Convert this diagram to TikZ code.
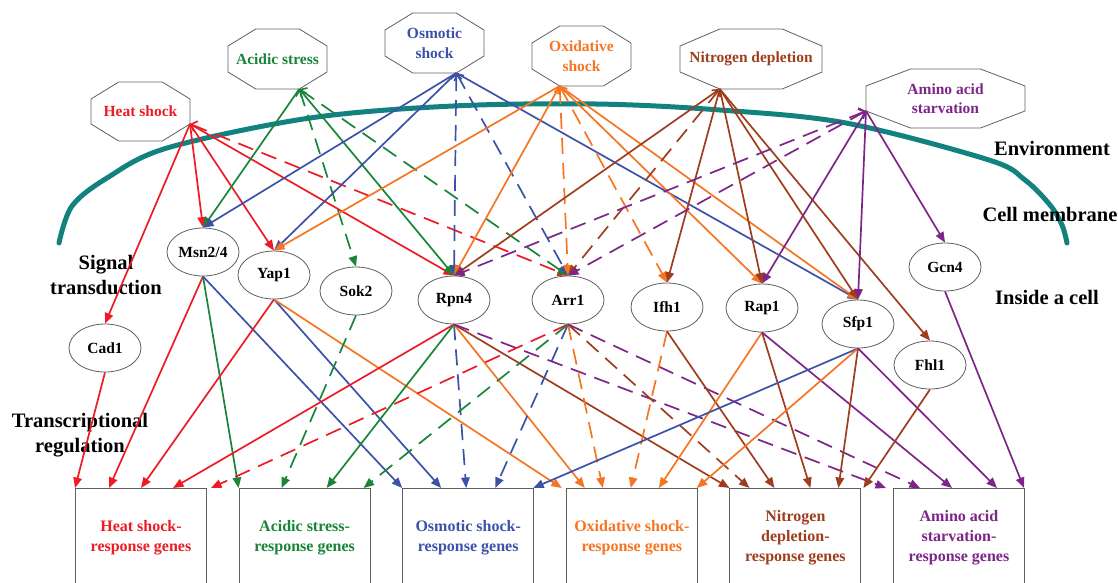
\documentclass[tikz,border=0pt]{standalone}
\usepackage{fontspec}
\setmainfont{Liberation Serif}
\usetikzlibrary{arrows.meta,calc,shapes.geometric}
\definecolor{cred}{RGB}{237,28,36}
\definecolor{cgreen}{RGB}{24,133,56}
\definecolor{cblue}{RGB}{60,82,168}
\definecolor{corange}{RGB}{245,117,34}
\definecolor{cbrown}{RGB}{158,62,30}
\definecolor{cpurple}{RGB}{125,38,135}
\definecolor{cteal}{RGB}{18,130,128}
\definecolor{cgray}{RGB}{95,95,95}
\newcommand\myoct[7]{%
  \node[octtxt, text=#6, minimum width=#4pt, minimum height=#5pt] (#1) at (#2,#3) {#7};
  \draw[octline] ({#2-#4/2},{#3-#5/2+17}) -- ({#2-#4/2+0.28*#4},{#3-#5/2})
    -- ({#2+#4/2-0.28*#4},{#3-#5/2}) -- ({#2+#4/2},{#3-#5/2+17})
    -- ({#2+#4/2},{#3+#5/2-17}) -- ({#2+#4/2-0.28*#4},{#3+#5/2})
    -- ({#2-#4/2+0.28*#4},{#3+#5/2}) -- ({#2-#4/2},{#3+#5/2-17}) -- cycle;
}
\begin{document}
\begin{tikzpicture}[x=1pt,y=-1pt,
  edge/.style={line width=1.7pt, -{Triangle[length=10.5pt,width=8.5pt]}},
  dedge/.style={edge, dash pattern=on 16pt off 9pt},
  bdedge/.style={dedge, {Straight Barb[length=5pt,width=11pt]}-{Triangle[length=10.5pt,width=8.5pt]}},
  ell/.style={draw=cgray, fill=white, line width=0.8pt, ellipse, minimum width=72pt, minimum height=48pt, inner sep=0pt, font=\bfseries\fontsize{15.5}{19.5}\selectfont},
  octtxt/.style={inner sep=0pt, align=center, font=\bfseries\fontsize{15.5}{19.5}\selectfont},
  octline/.style={draw=cgray, line width=0.8pt},
  genebox/.style={draw=cgray, fill=white, line width=1pt, anchor=north west, minimum width=131pt, minimum height=98pt, inner sep=0pt, align=center, font=\bfseries\fontsize{16}{20}\selectfont},
  lbl/.style={inner sep=0pt, align=center, font=\bfseries\fontsize{20.5}{25}\selectfont}
]
\useasboundingbox (0,0) rectangle (1118,582);
\clip (0,0) rectangle (1118,582);

% cell membrane
\draw[cteal, line width=5pt, line cap=round] plot[smooth, tension=0.55] coordinates {
 (59,243) (72,206) (107,178) (167,148) (310,118) (453,106) (596,104) (720,110)
 (846,123) (989,160) (1025,180) (1050,205) (1062,225) (1067,243)};

% labels
\node[lbl] (env) at (1052,148) {Environment};
\node[lbl] (memb) at (1050,214) {Cell membrane};
\node[lbl] (inside) at (1047,297) {Inside a cell};
\node[lbl] (sig) at (106,275) {Signal\\transduction};
\node[lbl] (tr) at (80,435) {Transcriptional\\regulation};

% stimuli
\myoct{heat}{140.5}{111.5}{99}{59}{cred}{Heat shock}
\myoct{acid}{277.5}{59}{99}{60}{cgreen}{Acidic stress}
\myoct{osm}{434.5}{43}{99}{60}{cblue}{Osmotic\\shock}
\myoct{oxi}{581.5}{56}{99}{60}{corange}{Oxidative\\shock}
\myoct{nit}{751}{59}{142}{60}{cbrown}{Nitrogen depletion}
\myoct{ami}{945.5}{98.5}{159}{59}{cpurple}{Amino acid\\starvation}
\coordinate (heat-o) at (190,124);
\coordinate (acid-o) at (299.3,89);
\coordinate (osm-o) at (456.3,73);
\coordinate (oxi-o) at (559.7,86);
\coordinate (nit-o) at (719.8,89);
\coordinate (ami-o) at (866,111);

% transcription factors
\node[ell] (msn) at (203,252) {Msn2/4};
\node[ell] (yap) at (274,275) {Yap1};
\node[ell] (sok) at (356,291) {Sok2};
\node[ell] (rpn) at (454,300) {Rpn4};
\node[ell] (arr) at (568,300) {Arr1};
\node[ell] (ifh) at (667,307) {Ifh1};
\node[ell] (rap) at (762,308) {Rap1};
\node[ell] (sfp) at (858,324) {Sfp1};
\node[ell] (gcn) at (945,267) {Gcn4};
\node[ell] (fhl) at (930,365) {Fhl1};
\node[ell] (cad) at (105,348) {Cad1};

% gene boxes
\node[genebox, text=cred] (hbox) at (75,488) {Heat shock-\\response genes};
\node[genebox, text=cgreen] (abox) at (238.6,488) {Acidic stress-\\response genes};
\node[genebox, text=cblue] (obox) at (402.2,488) {Osmotic shock-\\response genes};
\node[genebox, text=corange] (xbox) at (565.8,488) {Oxidative shock-\\response genes};
\node[genebox, text=cbrown] (nbox) at (729.4,488) {Nitrogen\\depletion-\\response genes};
\node[genebox, text=cpurple] (mbox) at (893,488) {Amino acid\\starvation-\\response genes};

% heat shock
\draw[edge,cred] (heat-o) -- (cad.north);
\draw[edge,cred] (heat-o) -- (msn.north);
\draw[edge,cred] (heat-o) -- (yap.north);
\draw[edge,cred] (heat-o) -- (rpn.north);
\draw[bdedge,cred] (heat-o) -- (arr.north);
% acidic stress
\draw[edge,cgreen] (acid-o) -- (msn.north);
\draw[edge,cgreen] (acid-o) -- (rpn.north);
\draw[bdedge,cgreen] (acid-o) -- (sok.north);
\draw[bdedge,cgreen] (acid-o) -- (arr.north);
% osmotic shock
\draw[edge,cblue] (osm-o) -- (msn.north);
\draw[edge,cblue] (osm-o) -- (yap.north);
\draw[bdedge,cblue] (osm-o) -- (rpn.north);
\draw[bdedge,cblue] (osm-o) -- (arr.north);
\draw[edge,cblue] (osm-o) -- (sfp.north);
% oxidative shock
\draw[edge,corange] (oxi-o) -- (yap.north);
\draw[edge,corange] (oxi-o) -- (rpn.north);
\draw[bdedge,corange] (oxi-o) -- (arr.north);
\draw[bdedge,corange] (oxi-o) -- (ifh.north);
\draw[edge,corange] (oxi-o) -- (rap.north);
\draw[edge,corange] (oxi-o) -- (sfp.north);
% nitrogen depletion
\draw[edge,cbrown] (nit-o) -- (rpn.north);
\draw[bdedge,cbrown] (nit-o) -- (arr.north);
\draw[edge,cbrown] (nit-o) -- (ifh.north);
\draw[edge,cbrown] (nit-o) -- (rap.north);
\draw[edge,cbrown] (nit-o) -- (sfp.north);
\draw[edge,cbrown] (nit-o) -- (fhl.north);
% amino acid starvation
\draw[bdedge,cpurple] (ami-o) -- (rpn.north);
\draw[bdedge,cpurple] (ami-o) -- (arr.north);
\draw[edge,cpurple] (ami-o) -- (rap.north);
\draw[edge,cpurple] (ami-o) -- (sfp.north);
\draw[edge,cpurple] (ami-o) -- (gcn.north);

% factors to genes
\draw[edge,cred] (cad.south) -- ([xshift=0pt]hbox.north west);
\draw[edge,cred] (msn.south) -- ([xshift=34pt]hbox.north west);
\draw[edge,cgreen] (msn.south) -- ([xshift=0pt]abox.north west);
\draw[edge,cblue] (msn.south) -- ([xshift=0pt]obox.north west);
\draw[edge,cred] (yap.south) -- ([xshift=66pt]hbox.north west);
\draw[edge,cblue] (yap.south) -- ([xshift=39pt]obox.north west);
\draw[edge,corange] (yap.south) -- ([xshift=-4pt]xbox.north west);
\draw[dedge,cgreen] (sok.south) -- ([xshift=43pt]abox.north west);
\draw[edge,cred] (rpn.south) -- ([xshift=98pt]hbox.north west);
\draw[edge,cgreen] (rpn.south) -- ([xshift=88pt]abox.north west);
\draw[dedge,cblue] (rpn.south) -- ([xshift=64pt]obox.north west);
\draw[edge,corange] (rpn.south) -- ([xshift=19pt]xbox.north west);
\draw[edge,cbrown] (rpn.south) -- ([xshift=0pt]nbox.north west);
\draw[dedge,cpurple] (rpn.south) -- ([xshift=-7pt]mbox.north west);
\draw[dedge,cred] (arr.south) -- ([xshift=136pt]hbox.north west);
\draw[dedge,cgreen] (arr.south) -- ([xshift=125pt]abox.north west);
\draw[dedge,cblue] (arr.south) -- ([xshift=93pt]obox.north west);
\draw[dedge,corange] (arr.south) -- ([xshift=37pt]xbox.north west);
\draw[dedge,cbrown] (arr.south) -- ([xshift=20pt]nbox.north west);
\draw[dedge,cpurple] (arr.south) -- ([xshift=27pt]mbox.north west);
\draw[dedge,corange] (ifh.south) -- ([xshift=65pt]xbox.north west);
\draw[edge,cbrown] (ifh.south) -- ([xshift=45pt]nbox.north west);
\draw[edge,corange] (rap.south) -- ([xshift=93pt]xbox.north west);
\draw[edge,cbrown] (rap.south) -- ([xshift=81pt]nbox.north west);
\draw[edge,cpurple] (rap.south) -- ([xshift=59pt]mbox.north west);
\draw[edge,cblue] (sfp.south) -- ([xshift=131pt]obox.north west);
\draw[edge,corange] (sfp.south) -- ([xshift=131pt]xbox.north west);
\draw[edge,cbrown] (sfp.south) -- ([xshift=109pt]nbox.north west);
\draw[edge,cpurple] (sfp.south) -- ([xshift=104pt]mbox.north west);
\draw[edge,cbrown] (fhl.south) -- ([xshift=134pt]nbox.north west);
\draw[edge,cpurple] (gcn.south) -- ([xshift=131pt]mbox.north west);
\end{tikzpicture}
\end{document}
